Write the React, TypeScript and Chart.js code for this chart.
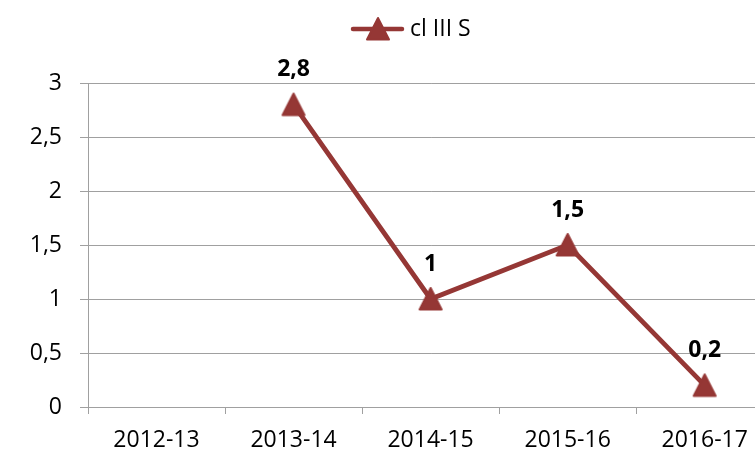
import React, { useEffect, useRef } from "react";
import { Chart, registerables } from "chart.js";

Chart.register(...registerables);

const categories = ["2012-13", "2013-14", "2014-15", "2015-16", "2016-17"];
const seriesName = "cl III S";
const seriesValues: (number | null)[] = [null, 2.8, 1, 1.5, 0.2];
const yTicks = [0, 0.5, 1, 1.5, 2, 2.5, 3];

const LINE_COLOR = "#953735";
const GRID_COLOR = "#a0a0a0";
const FONT = "'Open Sans', 'Noto Sans', sans-serif";

function makeTriangle(): HTMLCanvasElement {
  const c = document.createElement("canvas");
  c.width = 28;
  c.height = 26;
  const ctx = c.getContext("2d")!;
  ctx.fillStyle = LINE_COLOR;
  ctx.strokeStyle = LINE_COLOR;
  ctx.lineWidth = 2;
  ctx.lineJoin = "round";
  ctx.beginPath();
  ctx.moveTo(14, 2);
  ctx.lineTo(25, 23.5);
  ctx.lineTo(3, 23.5);
  ctx.closePath();
  ctx.fill();
  ctx.stroke();
  return c;
}

const fmt = (v: number) => String(v).replace(".", ",");

export default function App() {
  const ref = useRef<HTMLCanvasElement>(null);

  useEffect(() => {
    document.body.style.margin = "0";
    document.body.style.overflow = "hidden";
    const tri = makeTriangle();

    const labelsPlugin = {
      id: "valueLabels",
      afterDatasetsDraw(chart: any) {
        const ctx = chart.ctx;
        const meta = chart.getDatasetMeta(0);
        ctx.save();
        ctx.font = `bold 23px ${FONT}`;
        ctx.fillStyle = "#000";
        ctx.textAlign = "center";
        ctx.textBaseline = "middle";
        meta.data.forEach((pt: any, i: number) => {
          const v = seriesValues[i];
          if (v == null) return;
          ctx.fillText(fmt(v), pt.x, pt.y - 35);
        });
        ctx.restore();
      },
    };

    const legendPlugin = {
      id: "customLegend",
      afterDraw(chart: any) {
        const ctx = chart.ctx;
        ctx.save();
        ctx.strokeStyle = LINE_COLOR;
        ctx.lineWidth = 4.5;
        ctx.lineCap = "round";
        ctx.beginPath();
        ctx.moveTo(353, 29);
        ctx.lineTo(402, 29);
        ctx.stroke();
        ctx.drawImage(tri, 378 - 14, 29 - 13);
        ctx.font = `23px ${FONT}`;
        ctx.fillStyle = "#000";
        ctx.textAlign = "left";
        ctx.textBaseline = "middle";
        ctx.fillText(seriesName, 410, 29);
        ctx.restore();
      },
    };

    const chart = new Chart(ref.current!, {
      type: "line",
      data: {
        labels: categories,
        datasets: [
          {
            label: seriesName,
            data: seriesValues,
            borderColor: LINE_COLOR,
            backgroundColor: LINE_COLOR,
            borderWidth: 4.8,
            pointStyle: tri as any,
            pointRadius: 12,
            tension: 0,
            clip: false as any,
          },
        ],
      },
      options: {
        animation: false,
        responsive: false,
        devicePixelRatio: 1,
        layout: { padding: { top: 83, right: 15, left: 0, bottom: 0 } },
        plugins: {
          legend: { display: false },
          tooltip: { enabled: false },
        },
        scales: {
          x: {
            offset: true,
            grid: {
              offset: true,
              drawOnChartArea: false,
              drawTicks: true,
              tickLength: 7,
              color: GRID_COLOR,
            },
            border: { color: GRID_COLOR },
            ticks: {
              color: "#000",
              font: { family: FONT, size: 23 },
              padding: 13,
              maxRotation: 0,
            },
            afterFit(scale: any) {
              scale.height = 47;
            },
          },
          y: {
            min: 0,
            max: 3,
            afterBuildTicks(scale: any) {
              scale.ticks = yTicks.map((v) => ({ value: v }));
            },
            grid: {
              color: GRID_COLOR,
              tickLength: 8,
            },
            border: { color: GRID_COLOR },
            ticks: {
              color: "#000",
              font: { family: FONT, size: 23 },
              padding: 18,
              callback: (v: any) => fmt(Number(v)),
            },
            afterFit(scale: any) {
              scale.width = 88;
            },
          },
        },
      },
      plugins: [labelsPlugin, legendPlugin],
    });
    return () => chart.destroy();
  }, []);

  return (
    <div style={{ width: 755, height: 454, overflow: "hidden", position: "relative" }}>
      <canvas ref={ref} width={790} height={454} style={{ display: "block" }} />
    </div>
  );
}
